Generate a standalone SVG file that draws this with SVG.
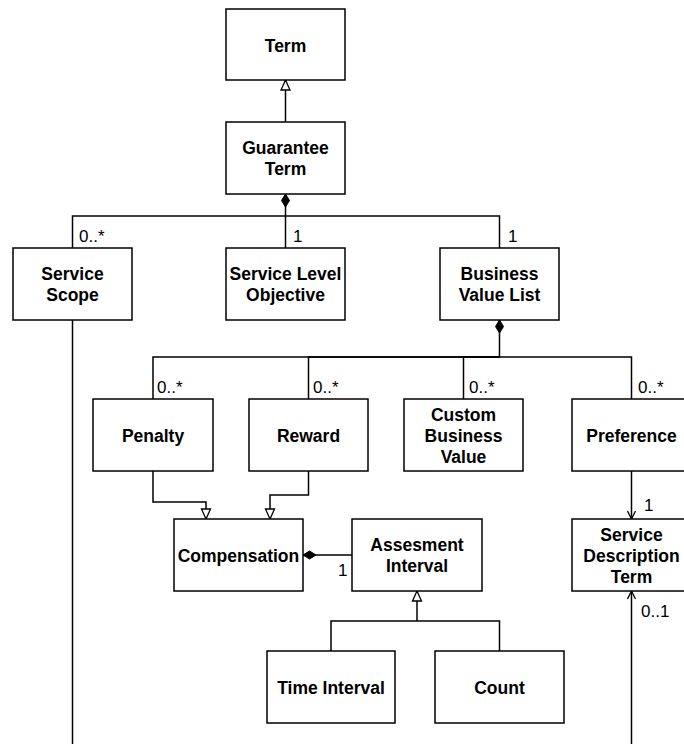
<svg xmlns="http://www.w3.org/2000/svg" width="684" height="744" viewBox="0 0 684 744">
<style>
.box{fill:#fff;stroke:#000;stroke-width:1.5}
.t{font-family:"Liberation Sans",Arial,sans-serif;font-weight:bold;font-size:17.5px;text-anchor:middle;fill:#000}
.lbl{font-family:"Liberation Sans",Arial,sans-serif;font-size:17px;fill:#000}
.c{fill:none;stroke:#000;stroke-width:1.5}
</style>
<defs>
<marker id="gen" markerUnits="userSpaceOnUse" viewBox="0 0 12 12" markerWidth="12" markerHeight="12" refX="11" refY="6" orient="auto">
<path d="M1,1.5 L11,6 L1,10.5 z" fill="#fff" stroke="#000" stroke-width="1.3"/>
</marker>
<marker id="dia" markerUnits="userSpaceOnUse" viewBox="0 0 16 10" markerWidth="16" markerHeight="10" refX="0.5" refY="5" orient="auto">
<path d="M0.5,5 L7,1 L13.5,5 L7,9 z" fill="#000" stroke="#000" stroke-width="1"/>
</marker>
<marker id="open" markerUnits="userSpaceOnUse" viewBox="0 0 10 10" markerWidth="10" markerHeight="10" refX="9" refY="5" orient="auto">
<path d="M1,1 L9,5 L1,9" fill="none" stroke="#000" stroke-width="1.3"/>
</marker>
</defs>
<g id="connectors">
<path class="c" d="M285.5,122 V80" marker-end="url(#gen)"/>
<path class="c" d="M285.5,194 V248" marker-start="url(#dia)"/>
<path class="c" d="M285.5,216 H72.5 V248"/>
<path class="c" d="M285.5,216 H499.5 V248"/>
<path class="c" d="M72.5,320 V744"/>
<path class="c" d="M499.5,320 V357 H153 V399" marker-start="url(#dia)"/>
<path class="c" d="M499.5,357 H308.5 V399"/>
<path class="c" d="M499.5,357 H463.5 V399"/>
<path class="c" d="M499.5,357 H631.5 V399"/>
<path class="c" d="M153,471 V502 H206 V519" marker-end="url(#gen)"/>
<path class="c" d="M308.5,471 V495 H270 V519" marker-end="url(#gen)"/>
<path class="c" d="M303,555 H352" marker-start="url(#dia)"/>
<path class="c" d="M331,651 V621 H499.5 V651"/>
<path class="c" d="M417,621 V591" marker-end="url(#gen)"/>
<path class="c" d="M631.5,471 V519" marker-end="url(#open)"/>
<path class="c" d="M631.5,744 V591" marker-end="url(#open)"/>
<text class="lbl" x="79" y="242">0..*</text>
<text class="lbl" x="293" y="242">1</text>
<text class="lbl" x="508" y="242">1</text>
<text class="lbl" x="157" y="393">0..*</text>
<text class="lbl" x="313" y="393">0..*</text>
<text class="lbl" x="469" y="393">0..*</text>
<text class="lbl" x="638" y="393">0..*</text>
<text class="lbl" x="644" y="511">1</text>
<text class="lbl" x="641" y="617">0..1</text>
<text class="lbl" x="338" y="576">1</text>
</g>
<g id="term"><rect class="box" x="226" y="9" width="119" height="71"/><text class="t" x="285.5" y="51.5">Term</text></g>
<g id="guarantee-term"><rect class="box" x="226" y="122" width="119" height="72"/><text class="t" x="285.5" y="153.5">Guarantee<tspan x="285.5" dy="21.5">Term</tspan></text></g>
<g id="service-scope"><rect class="box" x="13" y="248" width="119" height="72"/><text class="t" x="72.5" y="279.5">Service<tspan x="72.5" dy="21.5">Scope</tspan></text></g>
<g id="service-level-objective"><rect class="box" x="226" y="248" width="119" height="72"/><text class="t" x="285.5" y="279.5">Service Level<tspan x="285.5" dy="21.5">Objective</tspan></text></g>
<g id="business-value-list"><rect class="box" x="440" y="248" width="119" height="72"/><text class="t" x="499.5" y="279.5">Business<tspan x="499.5" dy="21.5">Value List</tspan></text></g>
<g id="penalty"><rect class="box" x="93" y="399" width="120" height="72"/><text class="t" x="153" y="442">Penalty</text></g>
<g id="reward"><rect class="box" x="249" y="399" width="119" height="72"/><text class="t" x="308.5" y="442">Reward</text></g>
<g id="custom-business-value"><rect class="box" x="404" y="399" width="119" height="72"/><text class="t" x="463.5" y="420.5">Custom<tspan x="463.5" dy="21">Business</tspan><tspan x="463.5" dy="21">Value</tspan></text></g>
<g id="preference"><rect class="box" x="572" y="399" width="119" height="72"/><text class="t" x="631.5" y="442">Preference</text></g>
<g id="compensation"><rect class="box" x="174" y="519" width="129" height="72"/><text class="t" x="238.5" y="562">Compensation</text></g>
<g id="assesment-interval"><rect class="box" x="352" y="519" width="130" height="72"/><text class="t" x="417" y="550.5">Assesment<tspan x="417" dy="21.5">Interval</tspan></text></g>
<g id="service-description-term"><rect class="box" x="572" y="519" width="119" height="72"/><text class="t" x="631.5" y="540.5">Service<tspan x="631.5" dy="21">Description</tspan><tspan x="631.5" dy="21">Term</tspan></text></g>
<g id="time-interval"><rect class="box" x="267" y="651" width="128" height="72"/><text class="t" x="331" y="694">Time Interval</text></g>
<g id="count"><rect class="box" x="435" y="651" width="129" height="72"/><text class="t" x="499.5" y="694">Count</text></g>
</svg>
